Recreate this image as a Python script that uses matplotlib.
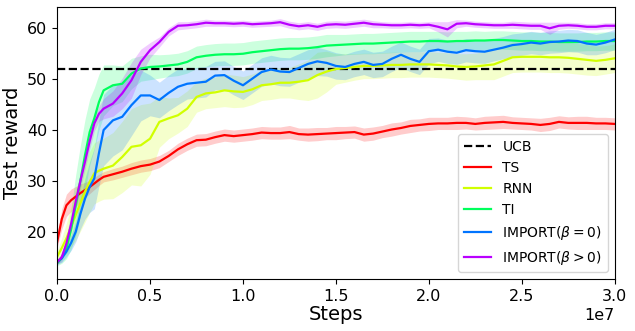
import numpy as np
import matplotlib
matplotlib.use("Agg")
import matplotlib.pyplot as plt

# sampling grid (in units of 1e7 steps)
steps = np.concatenate([np.arange(0, 0.25, 0.025), np.arange(0.25, 3.001, 0.05)]) * 1e7

ucb = 52.0

ts = [18.0, 22.5, 25.2, 26.2, 26.9, 27.6, 28.2, 28.8, 29.5, 30.2,
      30.8, 31.3, 31.8, 32.4, 32.9, 33.2, 33.8, 34.9, 36.2, 37.2,
      38.0, 38.1, 38.6, 39.0, 38.8, 39.0, 39.2, 39.5, 39.4, 39.4,
      39.6, 39.2, 39.1, 39.2, 39.3, 39.4, 39.5, 39.6, 39.1, 39.3,
      39.7, 40.1, 40.4, 40.8, 41.0, 41.2, 41.3, 41.3, 41.4, 41.4,
      41.2, 41.4, 41.5, 41.6, 41.4, 41.3, 41.2, 41.0, 41.2, 41.6,
      41.4, 41.4, 41.4, 41.3, 41.3, 41.2]
ts_sd = [1.1, 2.0, 2.2, 2.2, 2.0, 1.8, 1.5, 1.3, 1.2, 1.1,
         1.0, 1.1, 1.1, 1.2, 1.2, 1.2, 1.2, 1.1, 1.2, 1.2,
         1.2, 1.2, 1.2, 1.2, 1.2, 1.2, 1.2, 1.2, 1.2, 1.2,
         1.3, 1.2, 1.3, 1.3, 1.2, 1.3, 1.2, 1.2, 1.3, 1.3,
         1.2, 1.3, 1.2, 1.3, 1.2, 1.3, 1.2, 1.2, 1.3, 1.2,
         1.2, 1.3, 1.3, 1.3, 1.2, 1.2, 1.2, 1.3, 1.3, 1.2,
         1.2, 1.3, 1.3, 1.2, 1.2, 1.2]

rnn = [15.1, 16.8, 18.7, 21.0, 23.3, 25.6, 27.9, 29.8, 31.5, 32.0,
       32.4, 33.0, 34.7, 36.7, 37.0, 38.3, 41.6, 42.3, 42.9, 44.2,
       46.5, 47.2, 47.4, 47.8, 47.6, 47.5, 48.0, 48.8, 49.0, 49.3,
       49.3, 49.5, 49.8, 50.8, 51.5, 52.0, 52.2, 52.4, 52.6, 52.6,
       52.7, 52.8, 52.8, 52.9, 52.9, 52.9, 52.8, 52.7, 52.5, 52.4,
       52.5, 52.7, 52.9, 53.6, 54.3, 54.4, 54.4, 54.4, 54.3, 54.3,
       54.2, 54.0, 53.8, 53.6, 53.8, 54.1]
rnn_sd = [1.0, 2.0, 3.0, 4.0, 5.0, 5.5, 6.0, 6.0, 6.0, 6.0,
          6.0, 6.5, 7.0, 7.5, 8.0, 7.0, 5.0, 4.0, 3.5, 3.5,
          3.0, 3.0, 3.0, 3.2, 3.2, 3.0, 3.0, 3.0, 3.0, 3.0,
          3.0, 3.5, 4.0, 4.5, 4.0, 3.0, 2.8, 2.6, 2.5, 2.5,
          2.5, 2.5, 2.5, 2.5, 2.5, 2.5, 2.5, 2.5, 2.5, 2.6,
          2.6, 2.8, 3.0, 3.0, 3.0, 3.0, 3.0, 3.0, 3.0, 3.0,
          3.0, 3.0, 3.0, 2.9, 2.8, 2.8]

ti = [13.8, 14.8, 16.7, 20.5, 25.2, 30.0, 35.1, 39.6, 42.3, 45.5,
      47.8, 48.8, 49.1, 51.1, 52.1, 52.4, 52.5, 52.7, 52.9, 53.4,
      54.3, 54.6, 54.8, 54.9, 54.9, 55.0, 55.3, 55.5, 55.7, 55.9,
      56.0, 56.0, 56.1, 56.3, 56.6, 56.7, 56.8, 56.9, 57.0, 57.0,
      57.1, 57.2, 57.3, 57.4, 57.4, 57.5, 57.5, 57.4, 57.5, 57.5,
      57.6, 57.6, 57.7, 57.7, 57.6, 57.5, 57.5, 57.4, 57.4, 57.3,
      57.3, 57.3, 57.4, 57.4, 57.5, 57.5]
ti_sd = [0.5, 1.0, 2.0, 4.0, 6.0, 7.0, 7.0, 6.5, 6.0, 5.5,
         5.0, 4.0, 3.5, 3.0, 2.5, 2.5, 2.3, 2.2, 2.2, 2.2,
         2.2, 2.2, 2.2, 2.2, 2.2, 2.2, 2.2, 2.2, 2.2, 2.2,
         2.2, 2.2, 2.2, 2.2, 2.2, 2.1, 2.0, 2.0, 2.0, 2.0,
         2.0, 2.0, 2.0, 2.0, 2.0, 1.9, 1.9, 1.9, 1.9, 1.9,
         1.9, 1.8, 1.8, 1.8, 1.8, 1.8, 1.8, 1.8, 1.8, 1.8,
         1.8, 1.8, 1.8, 1.8, 1.8, 1.8]

imp0 = [14.1, 14.8, 16.1, 17.8, 20.0, 23.5, 26.5, 28.8, 30.5, 35.5,
        40.0, 41.9, 42.6, 44.9, 46.8, 46.8, 45.9, 47.3, 48.5, 49.1,
        49.3, 49.5, 50.7, 50.8, 49.7, 48.8, 50.1, 51.4, 51.9, 51.5,
        51.4, 52.2, 53.0, 53.5, 53.2, 52.6, 52.4, 53.0, 53.4, 52.8,
        53.0, 54.0, 54.8, 54.0, 53.4, 55.5, 55.8, 55.4, 55.2, 55.7,
        55.5, 55.4, 55.8, 56.2, 56.7, 56.9, 57.2, 57.0, 57.3, 57.4,
        57.6, 57.5, 57.0, 56.8, 57.2, 57.8]
imp0_sd = [0.5, 0.8, 1.0, 1.5, 2.0, 3.0, 4.0, 5.0, 6.0, 6.5,
           7.0, 7.0, 6.5, 6.0, 5.0, 4.0, 3.5, 3.5, 3.5, 3.0,
           3.0, 3.0, 2.8, 2.8, 2.8, 2.8, 2.8, 2.8, 2.8, 2.8,
           2.8, 2.8, 2.8, 2.8, 2.6, 2.6, 2.5, 2.5, 2.5, 2.5,
           2.5, 2.5, 2.5, 2.5, 2.5, 2.5, 2.3, 2.3, 2.3, 2.3,
           2.3, 2.3, 2.2, 2.2, 2.2, 2.2, 2.2, 2.2, 2.2, 2.2,
           2.2, 2.2, 2.2, 2.0, 2.0, 2.0]

imp1 = [14.0, 15.0, 17.7, 21.5, 25.9, 30.0, 33.8, 37.8, 41.3, 43.2,
        44.2, 45.2, 47.2, 49.8, 53.4, 55.7, 57.3, 59.3, 60.5, 60.6,
        60.8, 61.1, 61.0, 61.0, 60.9, 61.0, 60.8, 60.9, 61.0, 61.2,
        60.7, 60.4, 60.6, 60.3, 60.7, 60.8, 60.7, 60.9, 61.1, 60.8,
        60.7, 60.6, 60.6, 60.7, 60.6, 60.7, 60.3, 59.8, 60.9, 61.0,
        60.8, 60.7, 60.6, 60.6, 60.7, 60.6, 60.5, 60.5, 60.0, 60.5,
        60.6, 60.5, 60.3, 60.3, 60.5, 60.5]
imp1_sd = [0.5, 0.8, 1.2, 1.5, 1.5, 1.5, 1.5, 1.5, 1.5, 1.5,
           2.0, 2.5, 3.0, 3.5, 2.5, 1.5, 1.0, 0.8, 0.8, 0.7,
           0.7, 0.7, 0.6, 0.6, 0.6, 0.6, 0.6, 0.6, 0.6, 0.7,
           0.7, 0.7, 0.7, 0.7, 0.7, 0.7, 0.7, 0.7, 0.7, 0.7,
           0.6, 0.6, 0.6, 0.6, 0.6, 0.6, 1.0, 1.5, 0.8, 0.6,
           0.6, 0.6, 0.6, 0.6, 0.7, 0.7, 0.7, 0.7, 1.2, 0.7,
           0.6, 0.6, 0.6, 0.6, 0.6, 0.6]

labels = ["TS", "RNN", "TI", r"IMPORT($\beta=0$)", r"IMPORT($\beta>0$)"]
means = [ts, rnn, ti, imp0, imp1]
sds = [ts_sd, rnn_sd, ti_sd, imp0_sd, imp1_sd]
colors = [plt.cm.hsv(i / 5) for i in range(5)]

fig, ax = plt.subplots(figsize=(6.35, 3.31), dpi=100)
fig.subplots_adjust(left=0.09, right=0.968, bottom=0.157, top=0.979)

ax.axhline(ucb, color="black", linestyle="--", lw=1.6, label="UCB")
for m, s, c, lab in zip(means, sds, colors, labels):
    m = np.array(m)
    s = np.array(s)
    ax.plot(steps, m, color=c, lw=1.6, label=lab)
    ax.fill_between(steps, m - s, m + s, color=c, alpha=0.2, lw=0)

ax.set_xlim(0, 3e7)
ax.set_ylim(10.7, 64.2)
ax.set_xlabel("Steps", fontsize=14, labelpad=1)
ax.set_ylabel("Test reward", fontsize=14)
ax.tick_params(labelsize=11.5)
ax.xaxis.get_offset_text().set_fontsize(11.5)
ax.legend(loc="lower right", fontsize=10)

plt.savefig("out.png")
